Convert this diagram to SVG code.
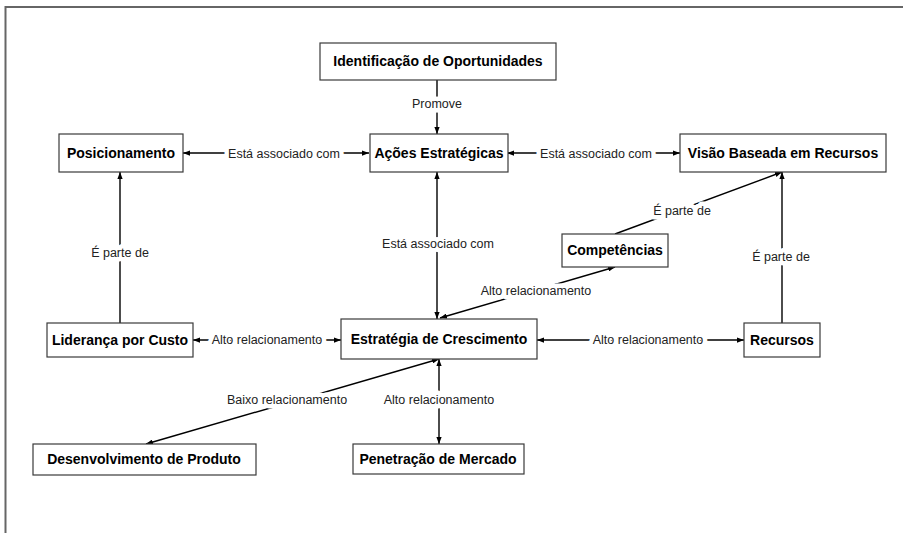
<svg xmlns="http://www.w3.org/2000/svg" width="903" height="533" viewBox="0 0 903 533">
<style>
.box{fill:#fff;stroke:#3a3a3a;stroke-width:1.2}
.nt{font-family:"Liberation Sans",Arial,sans-serif;font-weight:bold;font-size:14px;fill:#000;text-anchor:middle}
.ln{stroke:#000;stroke-width:1.4;fill:none}
.lb{font-family:"Liberation Sans",Arial,sans-serif;font-size:12.5px;fill:#222;text-anchor:middle;stroke:#fff;stroke-width:9;paint-order:stroke;stroke-linejoin:round}
.fr{stroke:#666;stroke-width:2;fill:none}
</style>
<defs>
<marker id="ar" viewBox="0 0 8 6" refX="8" refY="3" markerWidth="7" markerHeight="5.5" markerUnits="userSpaceOnUse" orient="auto-start-reverse">
<path d="M0,0 L8,3 L0,6 z" fill="#000"/>
</marker>
</defs>
<rect width="903" height="533" fill="#fff"/>
<path class="fr" d="M5.5,533 L5.5,7 L903,7"/>
<g id="connectors">
<path class="ln" d="M437,80 L437,134" marker-end="url(#ar)"/>
<path class="ln" d="M183,153 L369,153" marker-start="url(#ar)" marker-end="url(#ar)"/>
<path class="ln" d="M507,153 L680,153" marker-start="url(#ar)" marker-end="url(#ar)"/>
<path class="ln" d="M615,234 L782,172" marker-end="url(#ar)"/>
<path class="ln" d="M782,323 L782,172" marker-end="url(#ar)"/>
<path class="ln" d="M120,323 L120,172" marker-end="url(#ar)"/>
<path class="ln" d="M437,172 L437,319" marker-start="url(#ar)" marker-end="url(#ar)"/>
<path class="ln" d="M440,318 L615,267" marker-start="url(#ar)" marker-end="url(#ar)"/>
<path class="ln" d="M193,340 L341,340" marker-start="url(#ar)" marker-end="url(#ar)"/>
<path class="ln" d="M537,340 L744,340" marker-start="url(#ar)" marker-end="url(#ar)"/>
<path class="ln" d="M439,359 L146,444" marker-start="url(#ar)" marker-end="url(#ar)"/>
<path class="ln" d="M439,359 L439,444" marker-start="url(#ar)" marker-end="url(#ar)"/>
<text class="lb" x="437" y="108">Promove</text>
<text class="lb" x="284" y="158">Está associado com</text>
<text class="lb" x="596" y="158">Está associado com</text>
<text class="lb" x="682" y="215">É parte de</text>
<text class="lb" x="781" y="261">É parte de</text>
<text class="lb" x="120" y="257">É parte de</text>
<text class="lb" x="438" y="248">Está associado com</text>
<text class="lb" x="536" y="295">Alto relacionamento</text>
<text class="lb" x="267" y="344">Alto relacionamento</text>
<text class="lb" x="648" y="344">Alto relacionamento</text>
<text class="lb" x="287" y="404">Baixo relacionamento</text>
<text class="lb" x="439" y="404">Alto relacionamento</text>
</g>
<g id="n-identificacao"><rect class="box" x="320" y="43" width="236" height="37"/><text class="nt" x="438" y="66">Identificação de Oportunidades</text></g>
<g id="n-acoes"><rect class="box" x="370" y="134" width="138" height="38"/><text class="nt" x="439" y="158">Ações Estratégicas</text></g>
<g id="n-posicionamento"><rect class="box" x="59" y="134" width="124" height="38"/><text class="nt" x="121" y="158">Posicionamento</text></g>
<g id="n-visao"><rect class="box" x="680" y="134" width="206" height="38"/><text class="nt" x="783" y="158">Visão Baseada em Recursos</text></g>
<g id="n-competencias"><rect class="box" x="562" y="234" width="106" height="33"/><text class="nt" x="615" y="255">Competências</text></g>
<g id="n-recursos"><rect class="box" x="744" y="323" width="76" height="34"/><text class="nt" x="782" y="345">Recursos</text></g>
<g id="n-estrategia"><rect class="box" x="341" y="319" width="196" height="40"/><text class="nt" x="439" y="344">Estratégia de Crescimento</text></g>
<g id="n-lideranca"><rect class="box" x="47" y="323" width="146" height="34"/><text class="nt" x="120" y="345">Liderança por Custo</text></g>
<g id="n-desenvolvimento"><rect class="box" x="33" y="444" width="223" height="31"/><text class="nt" x="144" y="464">Desenvolvimento de Produto</text></g>
<g id="n-penetracao"><rect class="box" x="353" y="444" width="171" height="30"/><text class="nt" x="438" y="464">Penetração de Mercado</text></g>
</svg>
